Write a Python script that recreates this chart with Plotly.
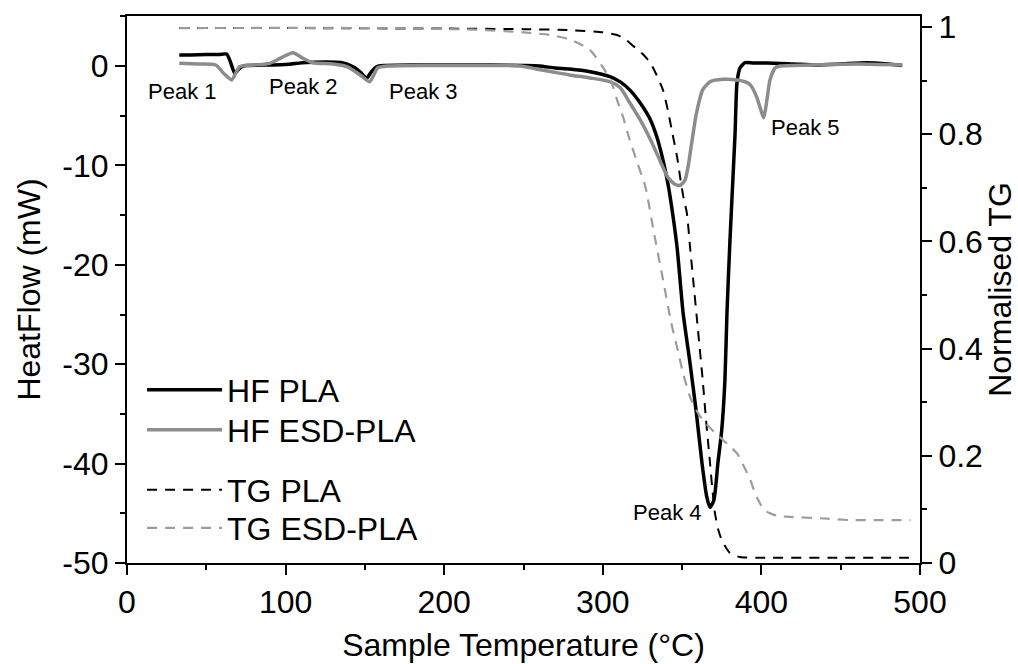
import plotly.graph_objects as go

# ---- data ----
hf_pla_T = [33, 40, 50, 58, 62.8, 65, 68, 70, 72.3, 75, 90, 100, 113, 125, 135, 142.6, 147, 151, 154, 157.4, 162,
            180, 200, 230, 250, 260, 270, 279, 292, 304.5, 311, 317, 323.5, 330, 334, 338, 341, 342.4, 346.8, 350.6,
            355, 359, 362.5, 365.5, 367.6, 370, 372.6, 375, 377, 378.3, 380, 381.5, 383.4, 384.6, 386.5, 389.7,
            395, 403.5, 420, 435, 450, 466.6, 480, 488.7]
hf_pla = [1.1, 1.1, 1.15, 1.15, 1.2, 0.5, -0.74, -0.4, -0.07, 0.05, 0.1, 0.15, 0.35, 0.4, 0.35, -0.07, -0.6, -1.24, -0.6, -0.07, 0.05,
          0.1, 0.1, 0.1, 0.05, 0.0, -0.2, -0.3, -0.57, -1.07, -1.6, -2.4, -3.7, -5.4, -7.1, -9.5, -11.8, -13.1, -18.2, -24.8,
          -29.9, -34.9, -39.9, -43.3, -44.4, -43.7, -39.9, -36.6, -31.6, -24.8, -18.2, -13.1, -6.8, -1.7, -0.2, 0.33,
          0.3, 0.3, 0.2, 0.1, 0.2, 0.33, 0.2, 0.05]

hf_esd_T = [33, 45, 56, 60.7, 66, 69, 71, 80, 90, 96.5, 104.7, 111, 117, 130, 138.6, 147, 153, 158, 164, 200,
            248, 258, 268.6, 279, 292, 304.5, 311, 317, 323.5, 330, 336, 341, 345.5, 348.7, 351.8, 353.7, 356, 359,
            363, 367.6, 375.8, 384.6, 390, 393, 397, 400.4, 401.5, 403.5, 405.4, 408.6, 411.7, 430, 460, 489]
hf_esd = [0.27, 0.2, 0.1, -0.7, -1.4, -0.57, -0.07, 0.1, 0.27, 0.77, 1.34, 0.77, 0.33, 0.2, -0.07, -0.9, -1.58, -0.2, 0.0, 0.05,
          0.0, -0.3, -0.6, -0.9, -1.2, -1.58, -2.2, -3.7, -5.4, -7.4, -9.5, -11.2, -11.9, -12.0, -11.5, -10.2, -7.8, -4.8,
          -2.4, -1.58, -1.34, -1.4, -1.6, -1.9, -3.1, -4.8, -5.2, -3.4, -1.4, -0.2, 0.0, 0.1, 0.2, 0.1]

tg_pla_T = [33, 100, 200, 250, 280, 300, 309, 315, 319, 325, 330, 334, 338, 341, 344, 347, 349, 351, 353, 355, 357,
            360, 363, 365, 367.6, 369, 370.7, 373, 375, 378, 380, 386.5, 400, 450, 493]
tg_pla = [0.998, 0.998, 0.997, 0.996, 0.994, 0.99, 0.985, 0.975, 0.965, 0.95, 0.933, 0.91, 0.882, 0.845, 0.80, 0.755,
          0.715, 0.68, 0.653, 0.59, 0.528, 0.435, 0.341, 0.27, 0.187, 0.14, 0.093, 0.06, 0.043, 0.027, 0.019, 0.011,
          0.01, 0.01, 0.01]

tg_esd_T = [33, 150, 220, 250, 267, 279, 292, 300, 305, 309, 313, 317, 322, 327, 332, 338, 343, 347, 351, 355, 359,
            363, 370, 376, 381, 385, 389, 393, 396, 399, 402, 405.4, 410, 418, 440, 456, 475, 494]
tg_esd = [0.998, 0.998, 0.995, 0.99, 0.985, 0.977, 0.957, 0.925, 0.9, 0.864, 0.83, 0.789, 0.745, 0.70, 0.62, 0.528,
          0.45, 0.40, 0.35, 0.31, 0.285, 0.267, 0.245, 0.229, 0.215, 0.203, 0.18, 0.155, 0.13, 0.112, 0.098, 0.093,
          0.088, 0.086, 0.083, 0.08, 0.08, 0.08]

peak_labels = ["Peak 1", "Peak 2", "Peak 3", "Peak 4", "Peak 5"]
peak_T = [35.3, 111, 187, 341, 428]
peak_HF = [-2.6, -2.1, -2.6, -44.9, -6.2]

x_ticks = [0, 100, 200, 300, 400, 500]
y_ticks = [0, -10, -20, -30, -40, -50]
y2_ticks = [0, 0.2, 0.4, 0.6, 0.8, 1]
y2_ticktext = ["0", "0.2", "0.4", "0.6", "0.8", "1"]

FONT = "Liberation Sans, Arial, sans-serif"
BLACK = "#000000"
GRAY = "#8c8c8c"
GRAY2 = "#9c9c9c"
TICK_SIZE = 32
TITLE_SIZE = 32
LEG_SIZE = 32

fig = go.Figure()
fig.add_trace(go.Scatter(x=hf_pla_T, y=hf_pla, mode="lines", name="HF PLA",
                         line=dict(color=BLACK, width=3.5, shape="spline", smoothing=0.6), legend="legend"))
fig.add_trace(go.Scatter(x=hf_esd_T, y=hf_esd, mode="lines", name="HF ESD-PLA",
                         line=dict(color=GRAY, width=3.5, shape="spline", smoothing=0.6), legend="legend2"))
fig.add_trace(go.Scatter(x=tg_pla_T, y=tg_pla, mode="lines", name="TG PLA", yaxis="y2",
                         line=dict(color=BLACK, width=2, dash="10px,8px", shape="spline", smoothing=0.6), legend="legend3"))
fig.add_trace(go.Scatter(x=tg_esd_T, y=tg_esd, mode="lines", name="TG ESD-PLA", yaxis="y2",
                         line=dict(color=GRAY2, width=2.2, dash="10px,8px", shape="spline", smoothing=0.6), legend="legend4"))

for lab, tx, ty in zip(peak_labels, peak_T, peak_HF):
    fig.add_annotation(x=tx, y=ty, text=lab, showarrow=False, xref="x", yref="y",
                       font=dict(size=22, color=BLACK, family=FONT))

axis_common = dict(showgrid=False, zeroline=False, linecolor=BLACK, linewidth=2, automargin=False,
                   ticks="outside", ticklen=10, tickwidth=2, tickcolor=BLACK,
                   tickfont=dict(size=TICK_SIZE, color=BLACK, family=FONT))

def leg(yc):
    return dict(x=0.019, y=yc, xanchor="left", yanchor="middle", bgcolor="rgba(0,0,0,0)", itemwidth=75,
                font=dict(size=LEG_SIZE, family=FONT, color=BLACK))

fig.update_layout(
    width=1018, height=664,
    margin=dict(l=127, r=98, t=16, b=101, autoexpand=False),
    paper_bgcolor="white", plot_bgcolor="white",
    font=dict(family=FONT, color=BLACK),
    xaxis=dict(range=[0, 500], tickvals=x_ticks, mirror=True,
               minor=dict(dtick=50, ticklen=5, tickwidth=2, tickcolor=BLACK, ticks="outside"),
               title=dict(text="Sample Temperature (°C)", font=dict(size=TITLE_SIZE, family=FONT, color=BLACK), standoff=14),
               **axis_common),
    yaxis=dict(range=[-50, 5.03], tickvals=y_ticks, ticktext=[str(v) for v in y_ticks],
               minor=dict(dtick=5, ticklen=5, tickwidth=2, tickcolor=BLACK, ticks="outside"),
               title=dict(text="HeatFlow (mW)", font=dict(size=TITLE_SIZE, family=FONT, color=BLACK), standoff=12),
               **axis_common),
    yaxis2=dict(range=[0, 1.0205], overlaying="y", side="right", tickvals=y2_ticks, ticktext=y2_ticktext,
                minor=dict(dtick=0.1, ticklen=5, tickwidth=2, tickcolor=BLACK, ticks="outside"),
                title=dict(text="Normalised TG", font=dict(size=TITLE_SIZE, family=FONT, color=BLACK), standoff=10),
                **axis_common),
    legend=leg(0.3163),
    legend2=leg(0.2431),
    legend3=leg(0.1335),
    legend4=leg(0.064),
    showlegend=True,
)

fig.write_html("out.html", config={"displayModeBar": False},
               post_script="document.body.style.margin='0';")
